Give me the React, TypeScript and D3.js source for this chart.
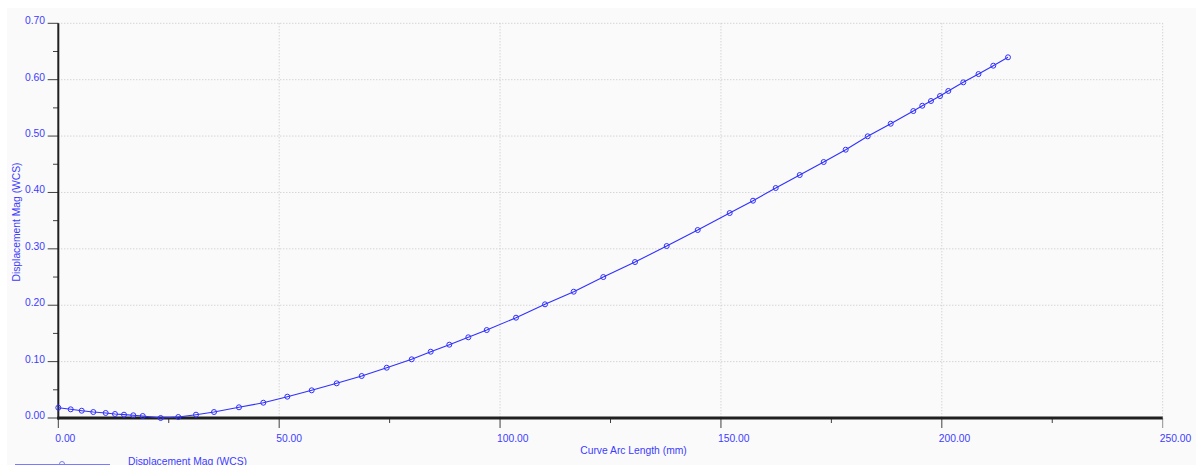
import React from "react";
import * as d3 from "d3";

const arcLength = [0, 2.81, 5.3, 7.92, 10.73, 12.83, 14.87, 16.98, 19.11, 23.18, 27.16, 31.17, 35.25, 40.9, 46.41, 51.84, 57.36, 63.02, 68.68, 74.34, 80.0, 84.3, 88.51, 92.81, 96.98, 103.61, 110.17, 116.67, 123.37, 130.55, 137.72, 144.74, 151.98, 157.26, 162.4, 167.83, 173.26, 178.24, 183.22, 188.43, 193.55, 195.58, 197.55, 199.59, 201.47, 204.86, 208.3, 211.65, 214.98];
const dispMag = [0.0183, 0.0154, 0.0129, 0.0106, 0.0089, 0.0071, 0.0059, 0.0048, 0.0035, 0.0, 0.0018, 0.0059, 0.0106, 0.019, 0.0271, 0.0378, 0.0491, 0.0615, 0.0745, 0.0892, 0.1041, 0.1176, 0.13, 0.1431, 0.156, 0.1779, 0.2016, 0.224, 0.25, 0.2766, 0.305, 0.3334, 0.3635, 0.3854, 0.4079, 0.4309, 0.454, 0.4758, 0.4996, 0.5219, 0.5444, 0.5538, 0.5622, 0.571, 0.58, 0.5953, 0.61, 0.6248, 0.6397];

const xMajorTicks = [0, 50, 100, 150, 200, 250];
const xMinorTicks = [25, 75, 125, 175, 225];
const yMajorTicks = [0, 0.1, 0.2, 0.3, 0.4, 0.5, 0.6, 0.7];
const yMinorTicks = [0.05, 0.15, 0.25, 0.35, 0.45, 0.55, 0.65];

const xTitle = "Curve Arc Length (mm)";
const yTitle = "Displacement Mag (WCS)";
const seriesName = "Displacement Mag (WCS)";

const W = 1196;
const H = 465;
const left = 58.3;
const right = 1162.7;
const top = 23.3;
const bottom = 418;

const textColor = "#3c3cff";
const lineColor = "#3030ff";
const font = "'Liberation Sans', Arial, sans-serif";
const fs = 10.3;

export default function App() {
  const x = d3.scaleLinear().domain([0, 250]).range([left, right]);
  const y = d3.scaleLinear().domain([0, 0.7]).range([bottom, top]);
  const pts = arcLength.map((a, i) => [a, dispMag[i]] as [number, number]);
  const line = d3.line<[number, number]>().x((d) => x(d[0])).y((d) => y(d[1]));

  return (
    <svg width={W} height={H} style={{ position: "absolute", left: 0, top: 0 }} fontFamily={font}>
      <rect x={0} y={0} width={W} height={H} fill="#ffffff" />
      <rect x={7} y={8} width={W - 7} height={H - 8} fill="#fafafa" />
      {/* grid */}
      {yMajorTicks.filter((t) => t > 0).map((t) => (
        <line key={"gy" + t} x1={left} x2={right} y1={y(t)} y2={y(t)} stroke="#c4c4c4" strokeWidth={1} strokeDasharray="1,2" />
      ))}
      {xMajorTicks.filter((t) => t > 0).map((t) => (
        <line key={"gx" + t} x1={x(t)} x2={x(t)} y1={top} y2={bottom} stroke="#c4c4c4" strokeWidth={1} strokeDasharray="1,2" />
      ))}
      {/* y ticks */}
      {yMajorTicks.map((t) => (
        <g key={"yt" + t}>
          <line x1={47.7} x2={left} y1={y(t)} y2={y(t)} stroke="#404040" strokeWidth={1} />
          <text x={45} y={y(t) + 1} textAnchor="end" fontSize={fs} fill={textColor}>{t.toFixed(2)}</text>
        </g>
      ))}
      {yMinorTicks.map((t) => (
        <line key={"ym" + t} x1={53} x2={left} y1={y(t)} y2={y(t)} stroke="#404040" strokeWidth={1} />
      ))}
      {/* x ticks */}
      {xMajorTicks.map((t) => (
        <g key={"xt" + t}>
          <line x1={x(t)} x2={x(t)} y1={bottom} y2={428} stroke={t === 250 ? "#909090" : "#404040"} strokeWidth={1} />
          <text x={x(t) - 3} y={442} textAnchor="start" fontSize={fs} fill={textColor}>{t.toFixed(2)}</text>
        </g>
      ))}
      {xMinorTicks.map((t) => (
        <line key={"xm" + t} x1={x(t)} x2={x(t)} y1={bottom} y2={423} stroke="#404040" strokeWidth={1} />
      ))}
      {/* axes */}
      <line x1={left} x2={left} y1={top} y2={bottom + 1.5} stroke="#202020" strokeWidth={2} />
      <line x1={left - 1} x2={right} y1={bottom} y2={bottom} stroke="#202020" strokeWidth={3} />
      {/* titles */}
      <text x={633.5} y={454} textAnchor="middle" fontSize={fs} fill={textColor}>{xTitle}</text>
      <text transform={`translate(20,222) rotate(-90)`} textAnchor="middle" fontSize={fs} fill={textColor}>{yTitle}</text>
      {/* series */}
      <path d={line(pts) || ""} fill="none" stroke={lineColor} strokeWidth={1.1} />
      {pts.map((p, i) => (
        <circle key={"c" + i} cx={x(p[0])} cy={y(p[1])} r={2.5} fill="none" stroke={lineColor} strokeWidth={1} />
      ))}
      {/* legend */}
      <line x1={15} x2={110} y1={464.5} y2={464.5} stroke="#7a7aff" strokeWidth={1} />
      <circle cx={62} cy={464} r={2.5} fill="none" stroke="#7a7aff" strokeWidth={1} />
      <text x={128} y={464.5} fontSize={fs} fill={textColor}>{seriesName}</text>
    </svg>
  );
}
